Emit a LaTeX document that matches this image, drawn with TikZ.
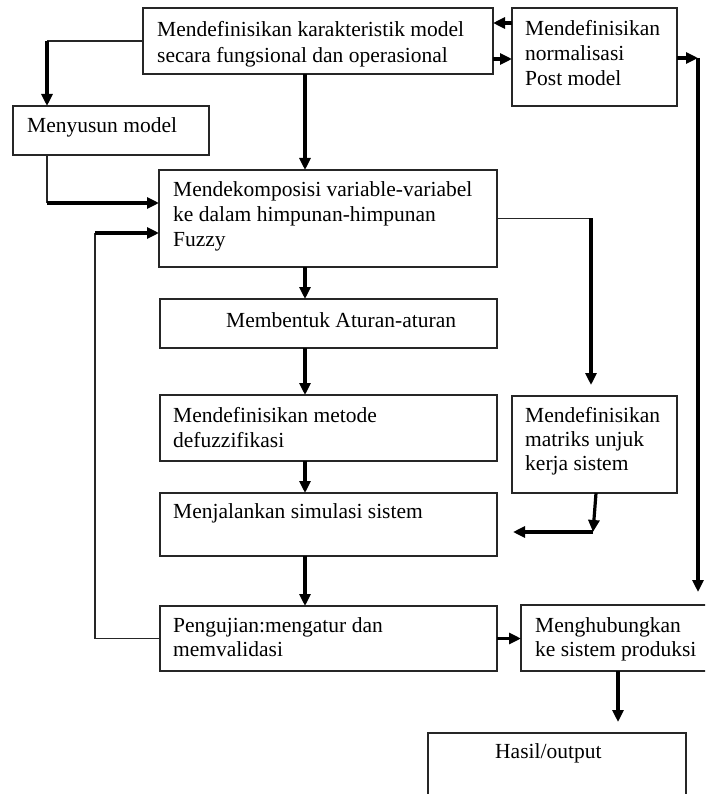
\documentclass[tikz,border=0pt]{standalone}
\usepackage{fontspec}
\setmainfont{Liberation Serif}
\usetikzlibrary{arrows.meta,calc}
\begin{document}
\begin{tikzpicture}[x=1pt,y=-1pt,
  boxs/.style={draw=black!85,line width=1.5pt,inner sep=0pt,outer sep=0pt,anchor=north west,rectangle},
  txt/.style={anchor=base west,inner sep=0pt,font=\fontsize{21.5}{25}\selectfont},
  arr/.style={line width=3.2pt,-{Triangle[width=11pt,length=12pt]}},
  thinl/.style={line width=1.5pt,draw=black!85}]
\useasboundingbox (0,0) rectangle (705,794);
\fill[white] (0,0) rectangle (705,794);
\clip (0,0) rectangle (705,794);
% boxes
\node[boxs,minimum width=350pt,minimum height=66pt] (b1) at (143,8) {};
\node[boxs,minimum width=165pt,minimum height=98pt] (norm) at (512,8) {};
\node[boxs,minimum width=196pt,minimum height=49pt] (meny) at (13,106) {};
\node[boxs,minimum width=338pt,minimum height=97pt] (decomp) at (159,170) {};
\node[boxs,minimum width=337pt,minimum height=49pt] (aturan) at (160,299) {};
\node[boxs,minimum width=337pt,minimum height=66pt] (defuzz) at (160,395) {};
\node[boxs,minimum width=165pt,minimum height=97pt] (matriks) at (512,396) {};
\node[boxs,minimum width=337pt,minimum height=63pt] (simul) at (160,493) {};
\node[boxs,minimum width=337pt,minimum height=65pt] (uji) at (160,606) {};
\node[boxs,minimum width=200pt,minimum height=66pt] (hub) at (521,605) {};
\node[boxs,minimum width=258pt,minimum height=90pt] (hasil) at (428,733) {};
% texts
\node[txt] (t1a) at (157,36.5) {Mendefinisikan karakteristik model};
\node[txt] (t1b) at (157,62.5) {secara fungsional dan operasional};
\node[txt] (t2a) at (525,36) {Mendefinisikan};
\node[txt] (t2b) at (525,61) {normalisasi};
\node[txt] (t2c) at (525,86) {Post model};
\node[txt] (t3a) at (27,133) {Menyusun model};
\node[txt] (t4a) at (173,197) {Mendekomposisi variable-variabel};
\node[txt] (t4b) at (173,222) {ke dalam himpunan-himpunan};
\node[txt] (t4c) at (173,247) {Fuzzy};
\node[txt] (t5a) at (226,327) {Membentuk Aturan-aturan};
\node[txt] (t6a) at (173,422) {Mendefinisikan metode};
\node[txt] (t6b) at (173,447) {defuzzifikasi};
\node[txt] (t7a) at (525,422) {Mendefinisikan};
\node[txt] (t7b) at (525,446) {matriks unjuk};
\node[txt] (t7c) at (525,470) {kerja sistem};
\node[txt] (t8a) at (173,518) {Menjalankan simulasi sistem};
\node[txt] (t9a) at (173,632) {Pengujian:mengatur dan};
\node[txt] (t9b) at (173,656) {memvalidasi};
\node[txt] (t10a) at (535,632) {Menghubungkan};
\node[txt] (t10b) at (535,656) {ke sistem produksi};
\node[txt] (t11a) at (495,758) {Hasil/output};
% helper coordinates
\coordinate (spine) at (305,0);
\coordinate (c1) at (698,58);
\coordinate (c2) at (47,41);
\coordinate (c3) at (47,203);
\coordinate (c4) at (95,638.5);
\coordinate (c5) at (95,233);
\coordinate (c6) at (591,218.5);
\coordinate (c7) at (593,532);
\coordinate (c8) at (596,0);
\coordinate (c9) at (618,0);
% connectors
\draw[arr] ($(norm.north west)+(0,15)$) -- ($(b1.north east)+(0,15)$);
\draw[arr] ($(b1.north east)+(0,51)$) -- ($(norm.north west)+(0,51)$);
\draw[arr] ($(norm.north east)+(0,50)$) -- (c1);
\draw[arr,shorten >=13pt] (c1) -- (c1 |- hub.north);
\draw[thinl] (b1.west) -- (c2);
\draw[arr] (c2) -- (c2 |- meny.north);
\draw[arr] (b1.south -| spine) -- (decomp.north -| spine);
\draw[thinl] (meny.south -| c3) -- (c3);
\draw[arr] (c3) -- (c3 -| decomp.west);
\draw[thinl] (uji.west) -- (c4) -- (c5);
\draw[arr] (c5) -- (c5 -| decomp.west);
\draw[thinl] (decomp.east) -- (c6);
\draw[arr,shorten >=11pt] (c6) -- (c6 |- matriks.north);
\draw[arr] (decomp.south -| spine) -- (aturan.north -| spine);
\draw[arr] (aturan.south -| spine) -- (defuzz.north -| spine);
\draw[arr] (defuzz.south -| spine) -- (simul.north -| spine);
\draw[arr] (simul.south -| spine) -- (uji.north -| spine);
\draw[arr] (matriks.south -| c8) -- (c7);
\draw[arr,shorten >=16pt] (c7) -- (c7 -| simul.east);
\draw[arr] (uji.east) -- (uji.east -| hub.west);
\draw[arr,shorten >=11pt] (hub.south -| c9) -- (hasil.north -| c9);
\end{tikzpicture}
\end{document}
